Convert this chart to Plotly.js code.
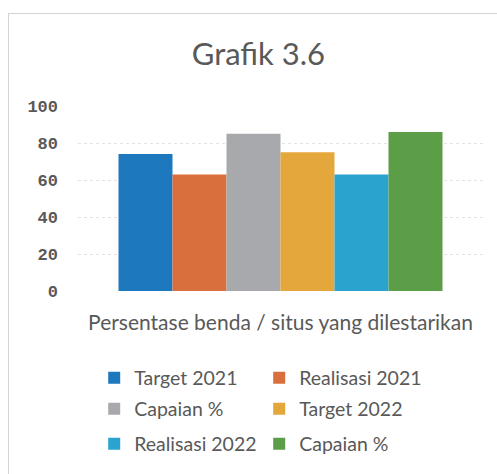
<!DOCTYPE html>
<html>
<head>
<meta charset="utf-8">
<script src="https://cdn.plot.ly/plotly-3.0.1.min.js"></script>
<style>
html,body{margin:0;padding:0;background:#fff;}
#frame{position:absolute;left:8px;top:13px;width:489px;height:461px;border-top:1px solid #d4d4d4;border-left:1px solid #d4d4d4;}
#chart{position:absolute;left:0;top:0;width:497px;height:474px;}
</style>
</head>
<body>
<div id="frame"></div>
<div id="chart"></div>
<script>
const categories = ["Persentase benda / situs yang dilestarikan"];
const seriesNames = ["Target 2021", "Realisasi 2021", "Capaian %", "Target 2022", "Realisasi 2022", "Capaian %"];
const target2021 = [74];
const realisasi2021 = [63];
const capaian2021 = [85];
const target2022 = [75];
const realisasi2022 = [63];
const capaian2022 = [86];
const yTicks = [0, 20, 40, 60, 80, 100];

const seriesValues = [target2021, realisasi2021, capaian2021, target2022, realisasi2022, capaian2022];
const colors = ["#1e78bd", "#d96f3d", "#a8a9ac", "#e4a73b", "#2ba3cf", "#5c9e48"];
const legendIds = ["legend", "legend", "legend2", "legend2", "legend3", "legend3"];

const traces = seriesValues.map((vals, i) => ({
  type: "bar",
  x: categories,
  y: vals,
  name: seriesNames[i],
  marker: {color: colors[i]},
  legend: legendIds[i],
  hoverinfo: "none"
}));

const legendBase = {
  orientation: "h",
  xanchor: "left",
  yanchor: "middle",
  x: 0.04,
  entrywidth: 120,
  font: {family: "Lato, sans-serif", size: 19.5, color: "#595959"},
  bgcolor: "rgba(0,0,0,0)",
  borderwidth: 0
};
const plotH = 186, plotB = 292;
function ly(px){ return (plotB - px) / plotH; }

const layout = {
  width: 497, height: 474,
  margin: {l: 78, r: 14, t: 106, b: 182},
  paper_bgcolor: "rgba(0,0,0,0)",
  plot_bgcolor: "rgba(0,0,0,0)",
  barmode: "group",
  bargap: 0.2,
  bargroupgap: 0,
  showlegend: true,
  title: {text: "Grafik 3.6", x: 0.52, xanchor: "center", y: 0.885, yanchor: "middle",
          font: {family: "Lato, sans-serif", size: 31, color: "#595959"}},
  xaxis: {
    type: "category",
    showgrid: false, zeroline: false, showline: false, ticks: "",
    ticklabelstandoff: 17,
    tickfont: {family: "Lato, sans-serif", size: 21, color: "#595959"},
    fixedrange: true
  },
  yaxis: {
    range: [0, 100],
    tickvals: yTicks,
    ticktext: yTicks.map(String),
    showgrid: true, gridcolor: "#e3e3e3", griddash: "dot", gridwidth: 1,
    zeroline: false, showline: false, ticks: "",
    ticklabelstandoff: 19,
    tickfont: {family: "Liberation Mono, monospace", size: 17, color: "#595959", weight: "bold"},
    fixedrange: true
  },
  legend: Object.assign({}, legendBase, {y: ly(378)}),
  legend2: Object.assign({}, legendBase, {y: ly(409)}),
  legend3: Object.assign({}, legendBase, {y: ly(444)})
};

Plotly.newPlot("chart", traces, layout, {displayModeBar: false, staticPlot: true});
</script>
</body>
</html>
